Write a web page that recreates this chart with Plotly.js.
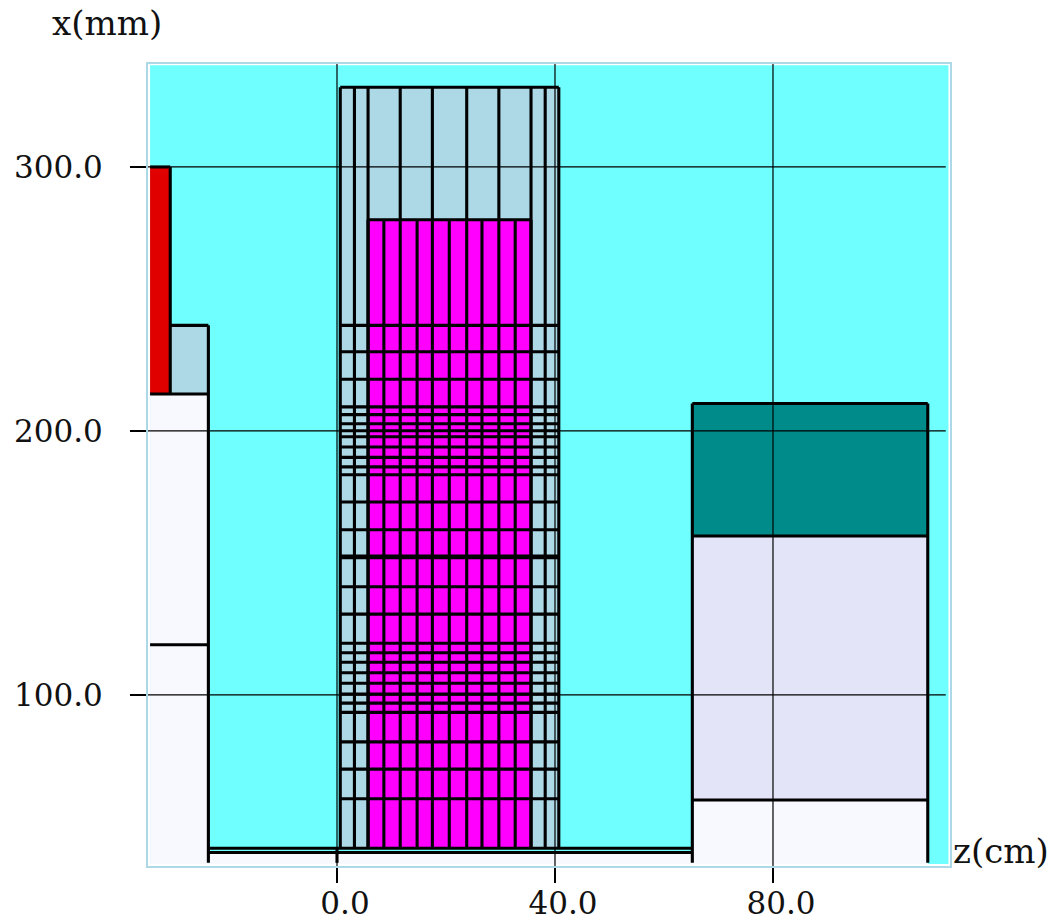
<!DOCTYPE html>
<html>
<head>
<meta charset="utf-8">
<script src="https://cdn.plot.ly/plotly-3.0.1.min.js"></script>
<style>html,body{margin:0;padding:0;background:#fff}</style>
</head>
<body>
<div id="chart" style="width:1048px;height:922px"></div>
<script>
// Axis ticks
const zTicks = [0, 40, 80];
const zTickText = ['0.0', '40.0', '80.0'];
const xTicks = [100, 200, 300];
const xTickText = ['100.0', '200.0', '300.0'];

// Central block: z edges (cm)
const blockOuterZ = [0.6, 3.2, 5.7, 11.6, 17.5, 23.8, 29.7, 35.6, 38.2, 40.7];
const pinkZ = [5.7, 8.6, 11.6, 14.7, 17.5, 20.6, 23.8, 26.6, 29.7, 32.7, 35.6];
// Central block: x edges (mm), top to bottom
const blockTopX = 330.2;
const pinkTopX = 280.0;
const blockBottomX = 41.9;
const blockRowsX = [240.0, 230.0, 219.6, 209.1, 206.2, 202.7, 200.1, 197.8, 193.9, 190.0, 186.4, 183.4,
  173.1, 162.6, 152.6, 152.0, 141.0, 130.6, 119.6, 116.0, 112.4, 108.4, 104.4, 100.3, 96.9, 93.4,
  82.2, 71.9, 60.7];

// Outer frame of the drawn region
const frameZ = [-34.3, 112.2];
const frameX = [36.0, 338.5];

// Left assembly
const leftZ = [-34.3, -30.6, -23.6];
const leftX = [300.0, 240.0, 214.0, 119.0];

// Beam pipe along the bottom
const pipeZ = [-23.6, 65.2];
const pipeX = [41.9, 40.3];
const stubBottomX = 36.4;

// Right assembly
const rightZ = [65.2, 108.4];
const rightX = [210.4, 160.2, 60.2];

// Colours
const cyan = '#70ffff', ghost = '#f8f8ff', lightBlue = '#add8e6', magenta = '#ff00ff',
      red = '#e00000', teal = '#008b8b', lavender = '#e4e4f8';

function rects(list) {
  const xs = [], ys = [];
  list.forEach(([z0, z1, x0, x1]) => {
    xs.push(z0, z1, z1, z0, z0, null);
    ys.push(x0, x0, x1, x1, x0, null);
  });
  return {x: xs, y: ys};
}
function fillTrace(list, color) {
  const r = rects(list);
  return {x: r.x, y: r.y, mode: 'lines', fill: 'toself', fillcolor: color,
          line: {width: 0, color: color}, hoverinfo: 'skip', showlegend: false};
}
function segTrace(list, color, width) {
  const xs = [], ys = [];
  list.forEach(([z0, x0, z1, x1]) => { xs.push(z0, z1, null); ys.push(x0, x1, null); });
  return {x: xs, y: ys, mode: 'lines', line: {color: color, width: width},
          hoverinfo: 'skip', showlegend: false};
}

const bz0 = blockOuterZ[0], bz1 = blockOuterZ[blockOuterZ.length - 1];
const pz0 = pinkZ[0], pz1 = pinkZ[pinkZ.length - 1];

const segs = [];
// central block
blockOuterZ.forEach(z => {
  if (z > pz0 && z < pz1) segs.push([z, blockTopX, z, pinkTopX]);
  else segs.push([z, blockTopX, z, blockBottomX]);
});
pinkZ.forEach(z => segs.push([z, pinkTopX, z, blockBottomX]));
segs.push([bz0, blockTopX, bz1, blockTopX]);
segs.push([pz0, pinkTopX, pz1, pinkTopX]);
blockRowsX.forEach(x => segs.push([bz0, x, bz1, x]));
// left assembly
segs.push([leftZ[0], leftX[0], leftZ[1], leftX[0]]);
segs.push([leftZ[1], leftX[0], leftZ[1], leftX[2]]);
segs.push([leftZ[1], leftX[1], leftZ[2], leftX[1]]);
segs.push([leftZ[0], leftX[2], leftZ[2], leftX[2]]);
segs.push([leftZ[2], leftX[1], leftZ[2], stubBottomX]);
segs.push([leftZ[0], leftX[3], leftZ[2], leftX[3]]);
// pipe
pipeX.forEach(x => segs.push([pipeZ[0], x, pipeZ[1], x]));
segs.push([0, pipeX[0], 0, stubBottomX]);
// right assembly
rightZ.forEach(z => segs.push([z, rightX[0], z, stubBottomX]));
rightX.forEach(x => segs.push([rightZ[0], x, rightZ[1], x]));

const gridSegs = [];
zTicks.forEach(z => gridSegs.push([z, 35.2, z, 339.0]));
xTicks.forEach(x => gridSegs.push([-34.68, x, 111.7, x]));

const traces = [
  fillTrace([[frameZ[0], frameZ[1], frameX[0], frameX[1]]], cyan),
  fillTrace([[leftZ[0], leftZ[2], frameX[0], leftX[2]],
             [pipeZ[0], rightZ[1], frameX[0], pipeX[1]],
             [rightZ[0], rightZ[1], frameX[0], rightX[2]]], ghost),
  fillTrace([[leftZ[1], leftZ[2], leftX[2], leftX[1]], [bz0, bz1, blockBottomX, blockTopX]], lightBlue),
  fillTrace([[pz0, pz1, blockBottomX, pinkTopX]], magenta),
  fillTrace([[leftZ[0], leftZ[1], leftX[2], leftX[0]]], red),
  fillTrace([[rightZ[0], rightZ[1], rightX[1], rightX[0]]], teal),
  fillTrace([[rightZ[0], rightZ[1], rightX[2], rightX[1]]], lavender),
  segTrace(segs, '#000000', 3.1),
  segTrace(gridSegs, '#000000', 1.2)
];

const tickFont = {family: '"DejaVu Serif", serif', size: 31, color: '#111111'};
const titleFont = {family: '"DejaVu Serif", serif', size: 34, color: '#111111'};

const layout = {
  width: 1048, height: 922,
  margin: {l: 148, r: 98, t: 64, b: 56, pad: 0},
  paper_bgcolor: '#ffffff', plot_bgcolor: '#ffffff',
  showlegend: false,
  hovermode: false,
  xaxis: {
    range: [-34.68, 112.48], tickmode: 'array', tickvals: zTicks, ticktext: zTickText,
    showgrid: false, zeroline: false, ticks: 'outside', ticklen: 15, tickwidth: 1.2, tickcolor: '#000000',
    showline: true, mirror: true, linecolor: lightBlue, linewidth: 2,
    tickfont: tickFont, ticklabelshift: 8, ticklabelstandoff: -6
  },
  yaxis: {
    range: [35.2, 339.0], tickmode: 'array', tickvals: xTicks, ticktext: xTickText,
    showgrid: false, zeroline: false, ticks: 'outside', ticklen: 16, tickwidth: 1.2, tickcolor: '#000000',
    showline: true, mirror: true, linecolor: lightBlue, linewidth: 2,
    tickfont: tickFont, ticklabelstandoff: 21
  },
  annotations: [
    {text: 'x(mm)', xref: 'paper', yref: 'paper', x: -0.1225, y: 1.051, xanchor: 'left', yanchor: 'middle',
     showarrow: false, font: titleFont},
    {text: 'z(cm)', xref: 'paper', yref: 'paper', x: 1.0015, y: 0.0187, xanchor: 'left', yanchor: 'middle',
     showarrow: false, font: titleFont}
  ]
};

Plotly.newPlot('chart', traces, layout, {displayModeBar: false, staticPlot: true});
</script>
</body>
</html>
